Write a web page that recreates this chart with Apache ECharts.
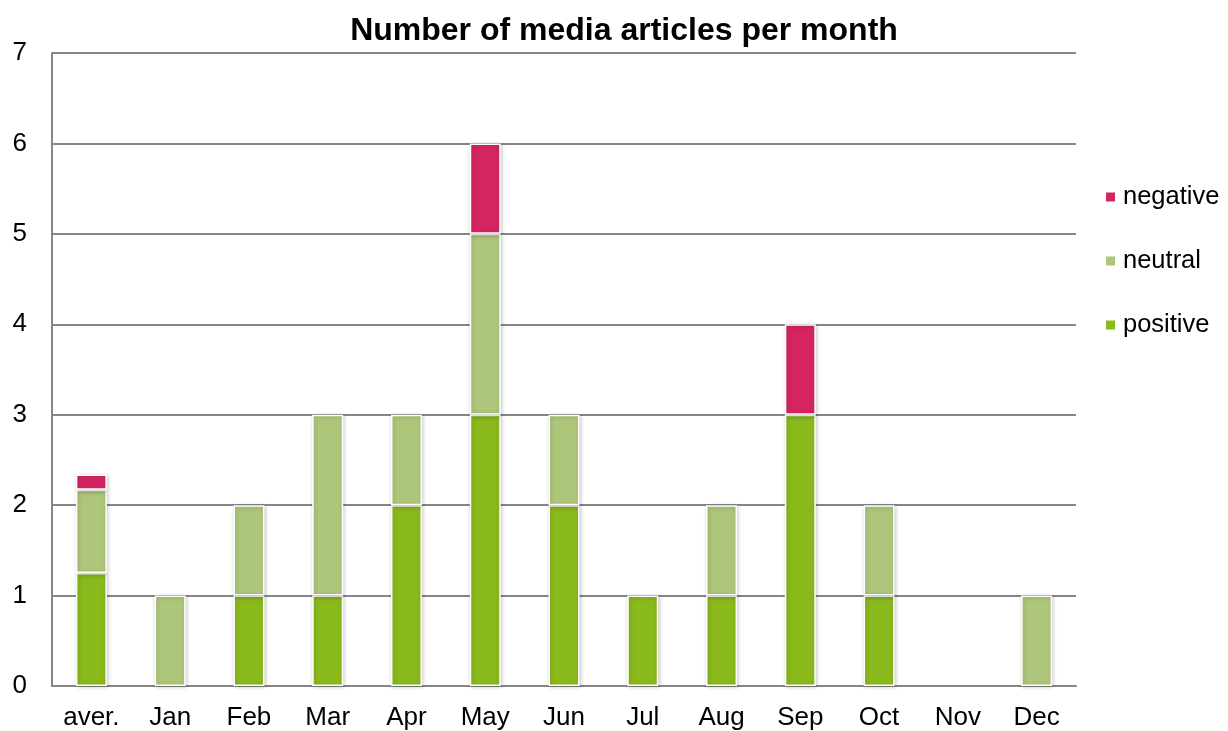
<!DOCTYPE html>
<html>
<head>
<meta charset="utf-8">
<script src="https://cdn.jsdelivr.net/npm/echarts@6/dist/echarts.min.js"></script>
<style>html,body{margin:0;padding:0;background:#fff;}#c{width:1228px;height:731px;}</style>
</head>
<body>
<div id="c"></div>
<script>
var categories = ['aver.', 'Jan', 'Feb', 'Mar', 'Apr', 'May', 'Jun', 'Jul', 'Aug', 'Sep', 'Oct', 'Nov', 'Dec'];
var positive = [1.25, 0, 1, 1, 2, 3, 2, 1, 1, 3, 1, 0, 0];
var neutral  = [0.92, 1, 1, 2, 1, 2, 1, 0, 1, 0, 1, 0, 1];
var negative = [0.17, 0, 0, 0, 0, 1, 0, 0, 0, 1, 0, 0, 0];
var yTicks = [0, 1, 2, 3, 4, 5, 6, 7];

var FONT = '"Liberation Sans", Arial, sans-serif';
function mk(name, data, color) {
  return {
    name: name, type: 'bar', stack: 'total', barWidth: 31,
    data: data.map(function (v) { return v === 0 ? null : v; }),
    itemStyle: {
      color: color, borderColor: '#ffffff', borderWidth: 1.5,
      shadowBlur: 4, shadowColor: 'rgba(0,0,0,0.22)', shadowOffsetX: 1, shadowOffsetY: 1
    }
  };
}
var chart = echarts.init(document.getElementById('c'));
chart.setOption({
  animation: false,
  title: {
    text: 'Number of media articles per month', left: 619, textAlign: 'center', top: 10,
    textStyle: { fontFamily: FONT, fontSize: 32, fontWeight: 'bold', color: '#000' }
  },
  grid: { left: 52, right: 152, top: 53, bottom: 44, containLabel: false },
  legend: {
    orient: 'vertical', left: 1099, top: 179, itemGap: 38,
    icon: 'rect', itemWidth: 11, itemHeight: 11,
    data: ['negative', 'neutral', 'positive'],
    textStyle: { fontFamily: FONT, fontSize: 25.5, color: '#000', padding: [0, 0, 0, 2] }
  },
  xAxis: {
    type: 'category', data: categories,
    axisLine: { lineStyle: { color: '#868686', width: 2 } },
    axisTick: { show: false },
    axisLabel: { fontFamily: FONT, fontSize: 26, color: '#000', margin: 19, interval: 0 }
  },
  yAxis: {
    type: 'value', min: yTicks[0], max: yTicks[yTicks.length - 1], interval: 1,
    axisLine: { show: true, lineStyle: { color: '#868686', width: 2 } },
    axisTick: { show: false },
    axisLabel: { fontFamily: FONT, fontSize: 26, color: '#000', margin: 25 },
    splitLine: { lineStyle: { color: '#868686', width: 2 } }
  },
  series: [
    mk('positive', positive, '#8ab91c'),
    mk('neutral', neutral, '#aec67a'),
    mk('negative', negative, '#d42562')
  ]
});
</script>
</body>
</html>
